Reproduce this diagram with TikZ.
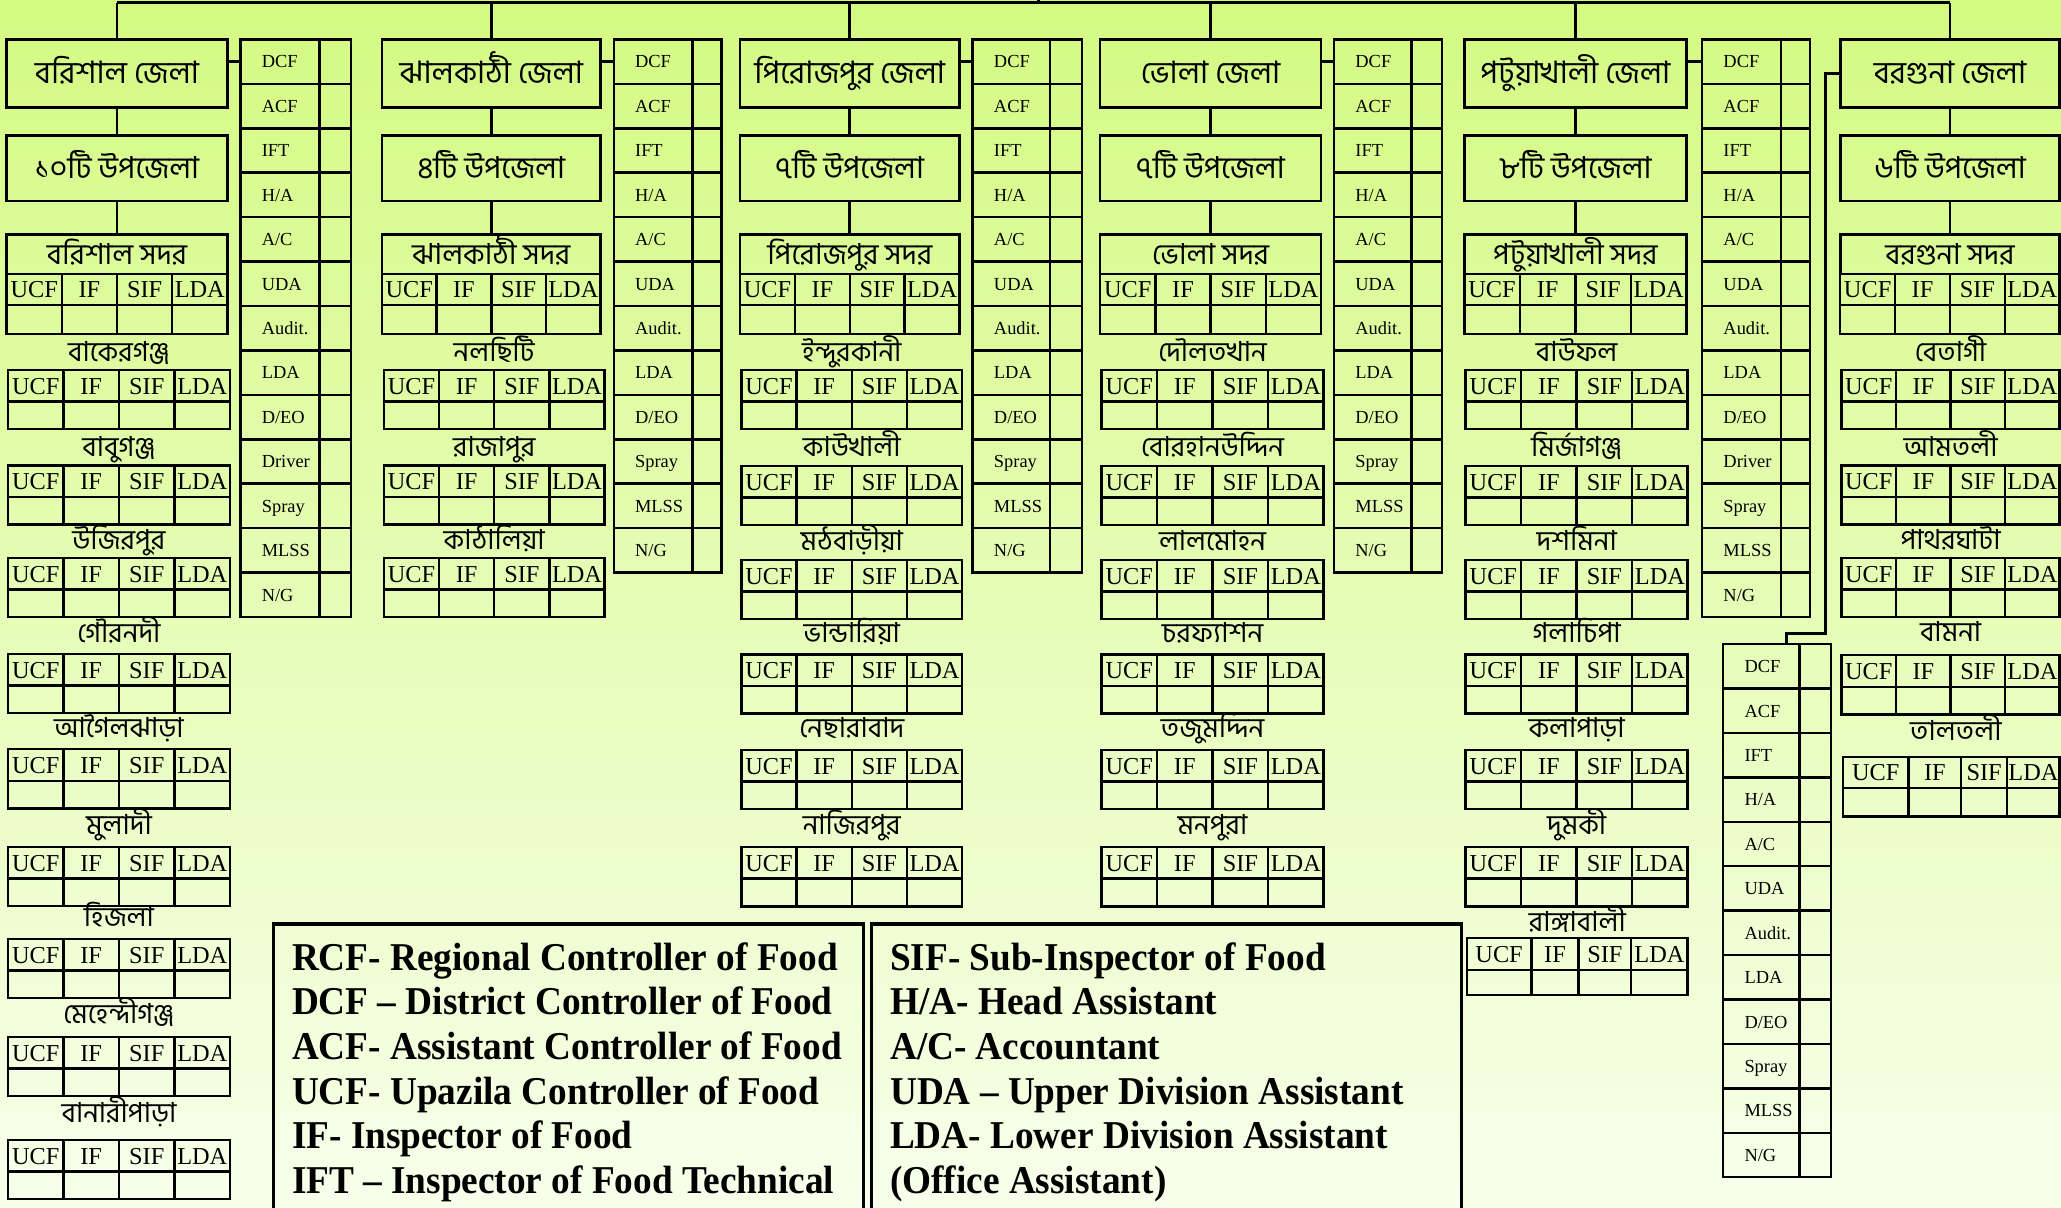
\documentclass[tikz,border=0pt]{standalone}
\usepackage{fontspec}
\setmainfont{Liberation Serif}
\newfontfamily\bn[Script=Bengali]{Hind Siliguri}
\newfontfamily\legfont[FakeStretch=0.945]{Liberation Serif}
\definecolor{bgtop}{RGB}{212,250,130}
\definecolor{bgbot}{RGB}{247,255,235}
\tikzset{
 bx/.style={draw, line width=2pt, inner sep=0, outer sep=0},
 tbl/.style={line width=1.9pt},
 conn/.style={line width=2pt},
 hdr/.style={font=\fontsize{18.5}{18.5}\selectfont, inner sep=0, anchor=base},
 sidetxt/.style={font=\fontsize{14}{14}\selectfont, inner sep=0, anchor=base west},
 bnbig/.style={font=\bn\fontsize{23.5}{23.5}\selectfont, inner sep=0, anchor=base},
 bncnt/.style={font=\bn\fontsize{23}{23}\selectfont, inner sep=0, anchor=base},
 bnmid/.style={font=\bn\fontsize{22}{22}\selectfont, inner sep=0, anchor=base},
 bnlab/.style={font=\bn\fontsize{21}{21}\selectfont, inner sep=0, anchor=base},
 legtxt/.style={font=\legfont\bfseries\fontsize{30}{30}\selectfont, inner sep=0, anchor=base west},
 legbox/.style={draw, line width=2.6pt, inner sep=0, outer sep=0, minimum width=449, minimum height=240, anchor=north west},
}
\newcommand\Grid[9]{%
 \draw[tbl] ({#2},{#7}) rectangle ({#6},{#9});
 \draw[tbl] ({#2},{#8}) -- ({#6},{#8});
 \draw[tbl] ({#3},{#7}) -- ({#3},{#9});
 \draw[tbl] ({#4},{#7}) -- ({#4},{#9});
 \draw[tbl] ({#5},{#7}) -- ({#5},{#9});
 \node[hdr] (#1-ucf) at ({((#2)+(#3))/2},{(#8)-5.5}) {UCF};
 \node[hdr] (#1-if) at ({((#3)+(#4))/2},{(#8)-5.5}) {IF};
 \node[hdr] (#1-sif) at ({((#4)+(#5))/2},{(#8)-5.5}) {SIF};
 \node[hdr] (#1-lda) at ({((#5)+(#6))/2},{(#8)-5.5}) {LDA};
}
\newcommand\UT[6]{%
 \node[bnlab] (#1-l) at ({((#2)+(#3))/2},{(#6)+7}) {#5};
 \Grid{#1}{#2}{(#2)+((#3)-(#2))/4}{(#2)+((#3)-(#2))/2}{(#2)+3*((#3)-(#2))/4}{#3}{#4}{(#4)+24}{(#4)+45}
}
\newcommand\Dist[6]{%
 \node[bx, minimum width={(#3)-(#2)}, minimum height=52] (#1-d) at ({((#2)+(#3))/2},56) {};
 \node[bnbig] (#1-dt) at ({((#2)+(#3))/2},63.5) {#4};
 \node[bx, minimum width={(#3)-(#2)}, minimum height=50] (#1-u) at ({((#2)+(#3))/2},128) {};
 \node[bncnt] (#1-ut) at ({((#2)+(#3))/2},135.5) {#5};
 \node[bx, minimum width={(#3)-(#2)}, minimum height=30] (#1-s) at ({((#2)+(#3))/2},193.5) {};
 \node[bnmid] (#1-st) at ({((#2)+(#3))/2},201) {#6};
 \Grid{#1-s}{#2}{(#2)+((#3)-(#2))/4}{(#2)+((#3)-(#2))/2}{(#2)+3*((#3)-(#2))/4}{#3}{208.5}{232}{254}
 \draw[conn] (#1-d) -- (#1-u);
 \draw[conn] (#1-u) -- (#1-s);
 \draw[conn] (#1-d.north) -- (#1-d.north |- bus);
}
\newcommand\SC[6]{%
 \foreach \lab [count=\i] in {#6} {
   \draw[tbl] ({#2},{(#5)+(\i-1)*33.8}) rectangle ({#3},{(#5)+\i*33.8});
   \draw[tbl] ({#3},{(#5)+(\i-1)*33.8}) rectangle ({#4},{(#5)+\i*33.8});
   \coordinate (#1-c\i) at ({#2},{(#5)+(\i-0.5)*33.8});
   \node[sidetxt] (#1-\i) at ({(#2)+16},{(#5)+(\i-0.5)*33.8+4.8}) {\lab};
 }
}
\begin{document}
\begin{tikzpicture}[x=1pt,y=-1pt]
\useasboundingbox (0,0) rectangle (1568,919);
\clip (0,0) rectangle (1568,919);
\shade[top color=bgtop, bottom color=bgbot] (0,0) rectangle (1568,919);
\coordinate (bus) at (89,2);
\coordinate (rcf) at (790,-6);

% Barisal
\Dist{bs}{5}{173}{বরিশাল জেলা}{১০টি উপজেলা}{বরিশাল সদর}
\SC{bss}{183}{243}{267}{30}{DCF,ACF,IFT,H/A,A/C,UDA,Audit.,LDA,D/EO,Driver,Spray,MLSS,N/G}
\draw[conn] (bs-d.east |- bss-c1) -- (bss-c1);
\UT{bs1}{6}{175}{281.5}{বাকেরগঞ্জ}{268}
\UT{bs2}{6}{175}{354}{বাবুগঞ্জ}{340}
\UT{bs3}{6}{175}{424.5}{উজিরপুর}{411}
\UT{bs4}{6}{175}{497.6}{গৌরনদী}{481.6}
\UT{bs5}{6}{175}{570}{আগৈলঝাড়া}{554}
\UT{bs6}{6}{175}{644.4}{মুলাদী}{627.7}
\UT{bs7}{6}{175}{714.4}{হিজলা}{697.7}
\UT{bs8}{6}{175}{789}{মেহেন্দীগঞ্জ}{772}
\UT{bs9}{6}{175}{867.3}{বানারীপাড়া}{846.8}

% Jhalokathi
\Dist{jk}{290.5}{457}{ঝালকাঠী জেলা}{৪টি উপজেলা}{ঝালকাঠী সদর}
\SC{jks}{467}{527}{549}{30}{DCF,ACF,IFT,H/A,A/C,UDA,Audit.,LDA,D/EO,Spray,MLSS,N/G}
\draw[conn] (jk-d.east |- jks-c1) -- (jks-c1);
\UT{jk1}{292}{460}{281.5}{নলছিটি}{268}
\UT{jk2}{292}{460}{354}{রাজাপুর}{340}
\UT{jk3}{292}{460}{424.5}{কাঠালিয়া}{411}

% Pirojpur
\Dist{pj}{563}{730}{পিরোজপুর জেলা}{৭টি উপজেলা}{পিরোজপুর সদর}
\SC{pjs}{740}{799}{823}{30}{DCF,ACF,IFT,H/A,A/C,UDA,Audit.,LDA,D/EO,Spray,MLSS,N/G}
\draw[conn] (pj-d.east |- pjs-c1) -- (pjs-c1);
\UT{pj1}{564}{732}{281.5}{ইন্দুরকানী}{268}
\UT{pj2}{564}{732}{354.5}{কাউখালী}{340}
\UT{pj3}{564}{732}{426}{মঠবাড়ীয়া}{412}
\UT{pj4}{564}{732}{498}{ভান্ডারিয়া}{481.8}
\UT{pj5}{564}{732}{570.5}{নেছারাবাদ}{554}
\UT{pj6}{564}{732}{644.5}{নাজিরপুর}{627.7}

% Bhola
\Dist{bh}{837}{1005}{ভোলা জেলা}{৭টি উপজেলা}{ভোলা সদর}
\SC{bhs}{1015}{1074}{1097}{30}{DCF,ACF,IFT,H/A,A/C,UDA,Audit.,LDA,D/EO,Spray,MLSS,N/G}
\draw[conn] (bh-d.east |- bhs-c1) -- (bhs-c1);
\UT{bh1}{838}{1007}{281.5}{দৌলতখান}{268}
\UT{bh2}{838}{1007}{354.5}{বোরহানউদ্দিন}{340}
\UT{bh3}{838}{1007}{426}{লালমোহন}{412}
\UT{bh4}{838}{1007}{498}{চরফ্যাশন}{481.8}
\UT{bh5}{838}{1007}{570.5}{তজুমদ্দিন}{554}
\UT{bh6}{838}{1007}{644.5}{মনপুরা}{627.7}

% Patuakhali
\Dist{pt}{1114}{1283}{পটুয়াখালী জেলা}{৮টি উপজেলা}{পটুয়াখালী সদর}
\SC{pts}{1295}{1355}{1377}{30}{DCF,ACF,IFT,H/A,A/C,UDA,Audit.,LDA,D/EO,Driver,Spray,MLSS,N/G}
\draw[conn] (pt-d.east |- pts-c1) -- (pts-c1);
\UT{pt1}{1115}{1284}{281.5}{বাউফল}{268}
\UT{pt2}{1115}{1284}{354.5}{মির্জাগঞ্জ}{340}
\UT{pt3}{1115}{1284}{426}{দশমিনা}{412}
\UT{pt4}{1115}{1284}{498}{গলাচিপা}{481.8}
\UT{pt5}{1115}{1284}{570.5}{কলাপাড়া}{554}
\UT{pt6}{1115}{1284}{644.5}{দুমকী}{627.7}
\node[bnlab] (pt7-l) at (1200,709) {রাঙ্গাবালী};
\Grid{pt7}{1116}{1165}{1201}{1241}{1284}{713.5}{738}{757}

% Barguna
\Dist{bg}{1400}{1567}{বরগুনা জেলা}{৬টি উপজেলা}{বরগুনা সদর}
\SC{bgs}{1311}{1369}{1393}{490}{DCF,ACF,IFT,H/A,A/C,UDA,Audit.,LDA,D/EO,Spray,MLSS,N/G}
\coordinate (bgk1) at (1389,482);
\coordinate (bgk2) at (1359,482);
\coordinate (bgs-top) at (1359,490);
\draw[conn] (bg-d.west) -| (bgk1) -- (bgk2) -- (bgs-top);
\UT{bg1}{1401}{1567}{281.5}{বেতাগী}{268}
\UT{bg2}{1401}{1567}{354}{আমতলী}{340}
\UT{bg3}{1401}{1567}{424.5}{পাথরঘাটা}{411}
\UT{bg4}{1401}{1567}{498.5}{বামনা}{481}
\node[bnlab] (bg5-l) at (1488,563) {তালতলী};
\Grid{bg5}{1402}{1452}{1492}{1527}{1567}{576}{599.5}{621}

% bus
\draw[line width=2.4pt] (bs-d.north |- bus) -- (bg-d.north |- bus);
\draw[line width=2.4pt] (rcf) -- (rcf |- bus);

% legend
\node[legbox] (legL) at (208,703) {};
\node[legbox] (legR) at (663,703) {};
\node[legtxt] (l1) at (222,738) {RCF- Regional Controller of Food};
\node[legtxt] (l2) at (222,772) {DCF – District Controller of Food};
\node[legtxt] (l3) at (222,806) {ACF- Assistant Controller of Food};
\node[legtxt] (l4) at (222,840) {UCF- Upazila Controller of Food};
\node[legtxt] (l5) at (222,874) {IF- Inspector of Food};
\node[legtxt] (l6) at (222,908) {IFT – Inspector of Food Technical};
\node[legtxt] (r1) at (677,738) {SIF- Sub-Inspector of Food};
\node[legtxt] (r2) at (677,772) {H/A- Head Assistant};
\node[legtxt] (r3) at (677,806) {A/C- Accountant};
\node[legtxt] (r4) at (677,840) {UDA – Upper Division Assistant};
\node[legtxt] (r5) at (677,874) {LDA- Lower Division Assistant};
\node[legtxt] (r6) at (677,908) {(Office Assistant)};
\end{tikzpicture}
\end{document}
